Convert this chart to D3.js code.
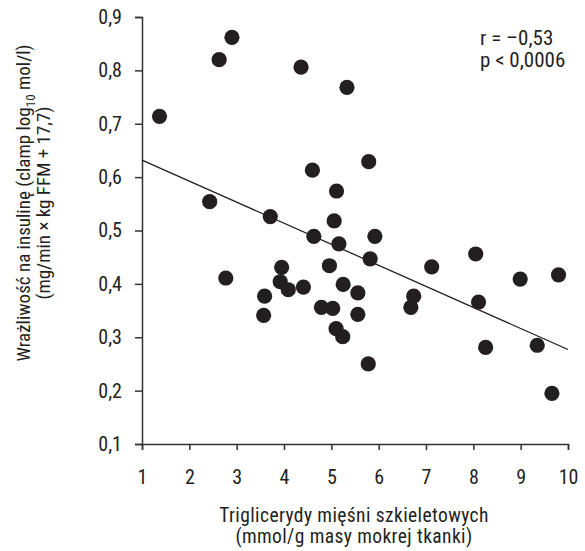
<!DOCTYPE html>
<html>
<head>
<meta charset="utf-8">
<script src="https://cdn.jsdelivr.net/npm/d3@7"></script>
<style>
  body { margin: 0; background: #fff; }
  svg text { font-family: 'Roboto Condensed', 'DejaVu Sans Condensed', sans-serif; fill: #231f20; }
</style>
</head>
<body>
<div id="chart"></div>
<script>
// triglicerydy (x) and insulin sensitivity (y)
const tgValues = [1.37, 2.63, 2.90, 4.36, 5.33, 5.79, 4.60, 5.11, 2.43, 3.71, 5.06, 4.63, 5.92, 5.16,
  2.77, 3.59, 3.57, 3.95, 3.92, 4.09, 4.41, 4.96, 5.25, 4.79, 5.03, 5.56, 5.56, 5.10, 5.24, 5.78, 5.82,
  7.12, 6.74, 6.68, 8.05, 8.11, 8.26, 8.99, 9.80, 9.35, 9.66];
const sensValues = [0.714, 0.820, 0.862, 0.806, 0.768, 0.629, 0.613, 0.574, 0.554, 0.526, 0.518, 0.489, 0.489, 0.475,
  0.411, 0.377, 0.341, 0.431, 0.404, 0.389, 0.394, 0.434, 0.399, 0.356, 0.354, 0.383, 0.343, 0.316, 0.301, 0.250, 0.447,
  0.432, 0.377, 0.356, 0.456, 0.366, 0.281, 0.409, 0.417, 0.285, 0.195];
const xTicks = [1, 2, 3, 4, 5, 6, 7, 8, 9, 10];
const yTicks = [0.1, 0.2, 0.3, 0.4, 0.5, 0.6, 0.7, 0.8, 0.9];
// regression line end points
const fitX = [1, 10];
const fitY = [0.632, 0.277];

const width = 585;
const height = 551;
const margin = { top: 17, right: 17, bottom: 107, left: 142 };
const fontSize = '20px';

const svg = d3.select('#chart')
  .append('svg')
  .attr('width', width)
  .attr('height', height);

const x = d3.scaleLinear().domain([1, 10]).range([margin.left, width - margin.right]);
const y = d3.scaleLinear().domain([0.1, 0.9]).range([height - margin.bottom, margin.top]);

const comma = d => d3.format('.1f')(d).replace('.', ',');

// axes
const xAxis = svg.append('g')
  .attr('transform', `translate(0,${y(0.1)})`)
  .call(d3.axisBottom(x).tickValues(xTicks).tickSize(6).tickPadding(20).tickFormat(d3.format('d')));

const yAxis = svg.append('g')
  .attr('transform', `translate(${x(1)},0)`)
  .call(d3.axisLeft(y).tickValues(yTicks).tickSize(7).tickPadding(13).tickFormat(comma));

[xAxis, yAxis].forEach(a => {
  a.select('.domain').attr('stroke', '#333').attr('stroke-width', 1.5);
  a.selectAll('.tick line').attr('stroke', '#333').attr('stroke-width', 1.5);
  a.selectAll('.tick text').style('font-size', fontSize).attr('fill', '#231f20');
});

// regression line
svg.append('line')
  .attr('x1', x(fitX[0])).attr('y1', y(fitY[0]))
  .attr('x2', x(fitX[1])).attr('y2', y(fitY[1]))
  .attr('stroke', '#231f20')
  .attr('stroke-width', 1.3);

// points
svg.append('g')
  .selectAll('circle')
  .data(tgValues.map((v, i) => [v, sensValues[i]]))
  .enter()
  .append('circle')
  .attr('cx', d => x(d[0]))
  .attr('cy', d => y(d[1]))
  .attr('r', 7.6)
  .attr('fill', '#231f20');

// annotation
const note = svg.append('text').style('font-size', '21px');
note.append('tspan').attr('x', 480).attr('y', 45).text('r = –0,53');
note.append('tspan').attr('x', 480).attr('y', 67).text('p < 0,0006');

// x title
svg.append('text')
  .attr('x', 354).attr('y', 522)
  .attr('text-anchor', 'middle')
  .style('font-size', '19.5px')
  .style('letter-spacing', '0.4px')
  .text('Triglicerydy mięśni szkieletowych');
svg.append('text')
  .attr('x', 354).attr('y', 543)
  .attr('text-anchor', 'middle')
  .style('font-size', '19.5px')
  .style('letter-spacing', '0.4px')
  .text('(mmol/g masy mokrej tkanki)');

// y title
const yTitle = svg.append('g').attr('transform', 'translate(0,203) rotate(-90)');
const l1 = yTitle.append('text')
  .attr('x', 0).attr('y', 30)
  .attr('text-anchor', 'middle')
  .style('font-size', '19px');
l1.append('tspan').text('Wrażliwość na insulinę (clamp log');
l1.append('tspan').attr('dy', 5).style('font-size', '13px').text('10');
l1.append('tspan').attr('dy', -5).text(' mol/l)');
yTitle.append('text')
  .attr('x', 0).attr('y', 50)
  .attr('text-anchor', 'middle')
  .style('font-size', '19px')
  .text('(mg/min × kg FFM + 17,7)');
</script>
</body>
</html>
